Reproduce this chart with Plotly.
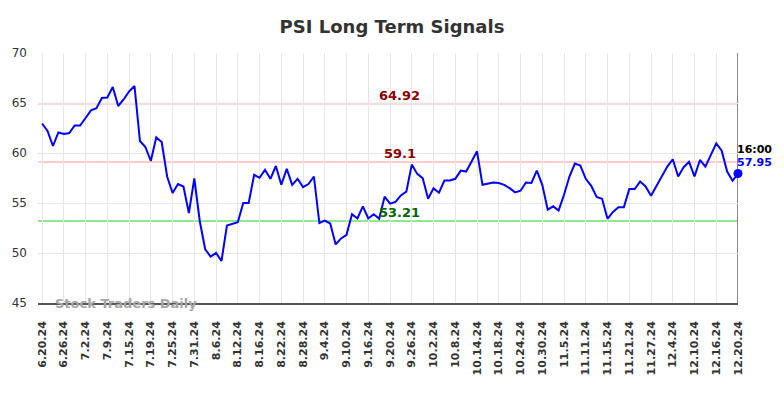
import pandas as pd
import plotly.graph_objects as go

# trading days 2024-06-20 .. 2024-12-20 (US market holidays removed)
holidays = ["2024-07-04", "2024-09-02", "2024-11-28"]
dates = [d for d in pd.bdate_range("2024-06-20", "2024-12-20") if d.strftime("%Y-%m-%d") not in holidays]
date_labels = [f"{d.month}.{d.day}.{d.strftime('%y')}" for d in dates]

values = [
    62.95, 62.2, 60.7, 62.05, 61.9, 62.0, 62.75, 62.75, 63.5, 64.27,
    64.47, 65.5, 65.55, 66.6, 64.7, 65.35, 66.15, 66.7, 61.2, 60.6,
    59.2, 61.56, 61.09, 57.65, 56.0, 56.89, 56.65, 54.0, 57.45, 53.2,
    50.37, 49.64, 50.0, 49.2, 52.75, 52.92, 53.08, 55.0, 55.0, 57.82,
    57.52, 58.31, 57.42, 58.7, 56.82, 58.41, 56.82, 57.42, 56.59, 56.89,
    57.65, 53.0, 53.25, 52.95, 50.86, 51.46, 51.82, 53.88, 53.45, 54.67,
    53.45, 53.88, 53.42, 55.63, 54.94, 55.1, 55.76, 56.13, 58.84, 57.91,
    57.49, 55.43, 56.46, 56.03, 57.25, 57.25, 57.42, 58.24, 58.14, 59.14,
    60.17, 56.82, 56.92, 57.05, 57.0, 56.82, 56.49, 56.06, 56.23, 57.05,
    57.0, 58.24, 56.82, 54.34, 54.67, 54.24, 55.83, 57.65, 58.94, 58.74,
    57.42, 56.72, 55.6, 55.43, 53.42, 54.11, 54.57, 54.57, 56.39, 56.39,
    57.15, 56.65, 55.73, 56.72, 57.75, 58.64, 59.37, 57.65, 58.58, 59.11,
    57.65, 59.3, 58.64, 59.8, 60.96, 60.23, 58.14, 57.22, 57.95,
]

upper_signal = 64.92
mid_signal = 59.1
lower_signal = 53.21
last_time = "16:00"
y_ticks = [45, 50, 55, 60, 65, 70]

idx = list(range(len(values)))
tick_idx = idx[::4]
tick_text = [date_labels[i] for i in tick_idx]

FONT = "DejaVu Sans"

fig = go.Figure()
for lvl, col in [(upper_signal, "#ffcccc"), (mid_signal, "#ffcccc"), (lower_signal, "#90e890")]:
    fig.add_shape(type="line", xref="paper", x0=0, x1=1, yref="y", y0=lvl, y1=lvl,
                  line=dict(color=col, width=2), layer="between")

fig.add_shape(type="line", xref="x", x0=idx[-1], x1=idx[-1], yref="paper", y0=0, y1=1,
              line=dict(color="#888888", width=2), layer="between")

fig.add_annotation(xref="paper", yref="paper", x=0.022, y=0, text="Stock Traders Daily",
                   showarrow=False, xanchor="left", yanchor="middle",
                   font=dict(family=FONT, size=13, color="#a6a6a6", weight="bold"))

fig.add_trace(go.Scatter(x=idx, y=values, mode="lines",
                         line=dict(color="#0000ff", width=2), hoverinfo="skip", cliponaxis=False))
fig.add_trace(go.Scatter(x=[idx[-1]], y=[values[-1]], mode="markers",
                         marker=dict(color="#0000ff", size=9), hoverinfo="skip", cliponaxis=False))

ann_x = 65.75
fig.add_annotation(x=ann_x, y=upper_signal, text=f"{upper_signal}", showarrow=False,
                   yanchor="bottom", yshift=-1, font=dict(family=FONT, size=13, color="#8b0000", weight="bold"))
fig.add_annotation(x=ann_x, y=mid_signal, text=f"{mid_signal}", showarrow=False,
                   yanchor="bottom", yshift=-1, font=dict(family=FONT, size=13, color="#8b0000", weight="bold"))
fig.add_annotation(x=ann_x, y=lower_signal, text=f"{lower_signal}", showarrow=False,
                   yanchor="bottom", yshift=-1, font=dict(family=FONT, size=13, color="#006400", weight="bold"))

fig.add_annotation(x=idx[-1], y=values[-1], text=last_time, showarrow=False,
                   xanchor="left", yanchor="bottom", xshift=-3, yshift=16,
                   font=dict(family=FONT, size=11, color="#000000", weight="bold"))
fig.add_annotation(x=idx[-1], y=values[-1], text=f"{values[-1]}", showarrow=False,
                   xanchor="left", yanchor="bottom", xshift=-3, yshift=3,
                   font=dict(family=FONT, size=11, color="#0000ff", weight="bold"))

fig.update_layout(
    width=784, height=398,
    margin=dict(l=38, r=46, t=53, b=95),
    paper_bgcolor="white", plot_bgcolor="white",
    showlegend=False,
    title=dict(text="PSI Long Term Signals", x=0.5, xanchor="center", y=0.932, yanchor="middle",
               font=dict(family=FONT, size=18, color="#333333", weight="bold")),
    xaxis=dict(range=[-0.75, idx[-1]], tickmode="array", tickvals=tick_idx, ticktext=tick_text,
               tickangle=-90, showgrid=True, gridcolor="#e6e6e6", gridwidth=1,
               showline=True, linecolor="#555555", linewidth=1.5,
               ticks="outside", ticklen=12, tickcolor="rgba(0,0,0,0)",
               tickfont=dict(family=FONT, size=11, color="#333333", weight="bold"),
               zeroline=False, automargin=False),
    yaxis=dict(range=[45, 70], tickvals=y_ticks, showgrid=True, gridcolor="#e6e6e6", gridwidth=1,
               zeroline=False, ticks="", automargin=False, ticklabelstandoff=10,
               tickfont=dict(family=FONT, size=12, color="#333333")),
)

fig.write_html("out.html", post_script="document.body.style.margin='0';",
               config={"displayModeBar": False})
